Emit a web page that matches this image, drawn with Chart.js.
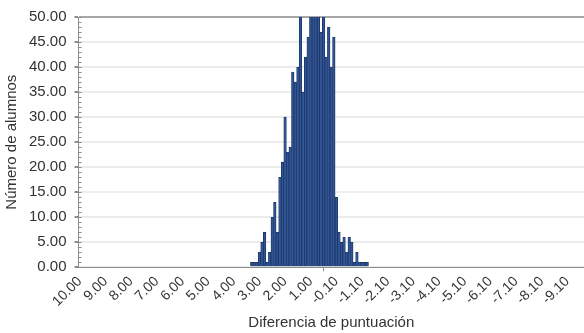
<!DOCTYPE html>
<html lang="es">
<head>
<meta charset="utf-8">
<title>Diferencia de puntuación</title>
<script src="https://cdn.jsdelivr.net/npm/chart.js@4.4.1/dist/chart.umd.min.js"></script>
<style>
  html, body { margin: 0; padding: 0; background: #ffffff; }
  canvas { display: block; }
</style>
</head>
<body>
<canvas id="grafico" width="584" height="333"></canvas>
<script>
// Intervalos de la diferencia de puntuación (eje X)
const categorias = [
    10.0, 9.9, 9.8, 9.7, 9.6, 9.5, 9.4, 9.3, 9.2, 9.1,
    9.0, 8.9, 8.8, 8.7, 8.6, 8.5, 8.4, 8.3, 8.2, 8.1,
    8.0, 7.9, 7.8, 7.7, 7.6, 7.5, 7.4, 7.3, 7.2, 7.1,
    7.0, 6.9, 6.8, 6.7, 6.6, 6.5, 6.4, 6.3, 6.2, 6.1,
    6.0, 5.9, 5.8, 5.7, 5.6, 5.5, 5.4, 5.3, 5.2, 5.1,
    5.0, 4.9, 4.8, 4.7, 4.6, 4.5, 4.4, 4.3, 4.2, 4.1,
    4.0, 3.9, 3.8, 3.7, 3.6, 3.5, 3.4, 3.3, 3.2, 3.1,
    3.0, 2.9, 2.8, 2.7, 2.6, 2.5, 2.4, 2.3, 2.2, 2.1,
    2.0, 1.9, 1.8, 1.7, 1.6, 1.5, 1.4, 1.3, 1.2, 1.1,
    1.0, 0.9, 0.8, 0.7, 0.6, 0.5, 0.4, 0.3, 0.2, 0.1,
    -0.1, -0.2, -0.3, -0.4, -0.5, -0.6, -0.7, -0.8, -0.9, -1.0,
    -1.1, -1.2, -1.3, -1.4, -1.5, -1.6, -1.7, -1.8, -1.9, -2.0,
    -2.1, -2.2, -2.3, -2.4, -2.5, -2.6, -2.7, -2.8, -2.9, -3.0,
    -3.1, -3.2, -3.3, -3.4, -3.5, -3.6, -3.7, -3.8, -3.9, -4.0,
    -4.1, -4.2, -4.3, -4.4, -4.5, -4.6, -4.7, -4.8, -4.9, -5.0,
    -5.1, -5.2, -5.3, -5.4, -5.5, -5.6, -5.7, -5.8, -5.9, -6.0,
    -6.1, -6.2, -6.3, -6.4, -6.5, -6.6, -6.7, -6.8, -6.9, -7.0,
    -7.1, -7.2, -7.3, -7.4, -7.5, -7.6, -7.7, -7.8, -7.9, -8.0,
    -8.1, -8.2, -8.3, -8.4, -8.5, -8.6, -8.7, -8.8, -8.9, -9.0,
    -9.1, -9.2, -9.3, -9.4, -9.5, -9.6, -9.7
];

// Número de alumnos en cada intervalo (mismo orden que categorias)
const alumnos = [
    0, 0, 0, 0, 0, 0, 0, 0, 0, 0,
    0, 0, 0, 0, 0, 0, 0, 0, 0, 0,
    0, 0, 0, 0, 0, 0, 0, 0, 0, 0,
    0, 0, 0, 0, 0, 0, 0, 0, 0, 0,
    0, 0, 0, 0, 0, 0, 0, 0, 0, 0,
    0, 0, 0, 0, 0, 0, 0, 0, 0, 0,
    0, 0, 0, 0, 0, 0, 0, 1, 1, 1,
    3, 5, 7, 1, 3, 10, 13, 7, 18, 21,
    30, 23, 24, 39, 37, 40, 52, 35, 42, 46,
    53, 56, 55, 52, 47, 51, 42, 48, 40, 46,
    14, 7, 5, 6, 3, 6, 5, 1, 3, 1,
    1, 1, 1, 0, 0, 0, 0, 0, 0, 0,
    0, 0, 0, 0, 0, 0, 0, 0, 0, 0,
    0, 0, 0, 0, 0, 0, 0, 0, 0, 0,
    0, 0, 0, 0, 0, 0, 0, 0, 0, 0,
    0, 0, 0, 0, 0, 0, 0, 0, 0, 0,
    0, 0, 0, 0, 0, 0, 0, 0, 0, 0,
    0, 0, 0, 0, 0, 0, 0, 0, 0, 0,
    0, 0, 0, 0, 0, 0, 0, 0, 0, 0,
    0, 0, 0, 0, 0, 0, 0
];

// Etiquetas visibles del eje X (una cada 10 intervalos)
const etiquetasX = [
    '10.00', '9.00', '8.00', '7.00', '6.00', '5.00', '4.00', '3.00', '2.00', '1.00',
    '-0.10', '-1.10', '-2.10', '-3.10', '-4.10', '-5.10', '-6.10', '-7.10', '-8.10', '-9.10'
];

const ejeY = { min: 0, max: 50, paso: 5, pasoMenor: 1 };

document.addEventListener('DOMContentLoaded', function() {
    Chart.defaults.font.family = '"Liberation Sans", Arial, sans-serif';
    Chart.defaults.color = '#333333';

    // Marcas menores del eje Y (hacia dentro del gráfico)
    const marcasMenores = {
        id: 'marcasMenores',
        afterDraw(chart) {
            const y = chart.scales.y;
            const ctx = chart.ctx;
            const izq = chart.chartArea.left;
            ctx.save();
            ctx.strokeStyle = '#8c8c8c';
            ctx.lineWidth = 1;
            ctx.beginPath();
            for (let v = ejeY.min; v <= ejeY.max; v += ejeY.pasoMenor) {
                const py = Math.round(y.getPixelForValue(v)) + 0.5;
                ctx.moveTo(izq, py);
                ctx.lineTo(izq + 3, py);
            }
            ctx.stroke();
            ctx.restore();
        }
    };

    const ctx = document.getElementById('grafico').getContext('2d');
    new Chart(ctx, {
        type: 'bar',
        data: {
            labels: categorias.map(c => c.toFixed(2)),
            datasets: [{
                label: 'Número de alumnos',
                data: alumnos,
                backgroundColor: '#2f5597',
                borderColor: '#1c3461',
                borderWidth: 0.8,
                categoryPercentage: 1,
                barPercentage: 1,
                clip: 0
            }]
        },
        options: {
            responsive: false,
            animation: false,
            devicePixelRatio: 1,
            layout: { padding: { top: 8, right: 0, bottom: 1, left: 0 } },
            plugins: {
                legend: { display: false },
                tooltip: { enabled: false }
            },
            scales: {
                x: {
                    grid: {
                        offset: true,
                        drawOnChartArea: false,
                        tickLength: 4,
                        color: c => (c.index % 10 === 0 ? '#8c8c8c' : 'rgba(0,0,0,0)')
                    },
                    border: { color: '#8c8c8c' },
                    ticks: {
                        autoSkip: false,
                        minRotation: 45,
                        maxRotation: 45,
                        padding: 2,
                        font: { size: 14 },
                        callback: (v, i) => (i % 10 === 0 ? etiquetasX[i / 10] : null)
                    },
                    title: {
                        display: true,
                        text: 'Diferencia de puntuación',
                        font: { size: 15 },
                        padding: { top: 2, bottom: 0 }
                    }
                },
                y: {
                    min: ejeY.min,
                    max: ejeY.max,
                    grid: {
                        color: c => (c.tick.value === ejeY.max ? '#a6a6a6' : '#ececec'),
                        lineWidth: 2,
                        tickColor: '#8c8c8c',
                        tickLength: 4
                    },
                    border: { color: '#8c8c8c' },
                    ticks: {
                        stepSize: ejeY.paso,
                        padding: 8,
                        font: { size: 15 },
                        callback: v => v.toFixed(2)
                    },
                    title: {
                        display: true,
                        text: 'Número de alumnos',
                        font: { size: 15 },
                        padding: { top: 3, bottom: 0 }
                    }
                }
            }
        },
        plugins: [marcasMenores]
    });
});
</script>
</body>
</html>
